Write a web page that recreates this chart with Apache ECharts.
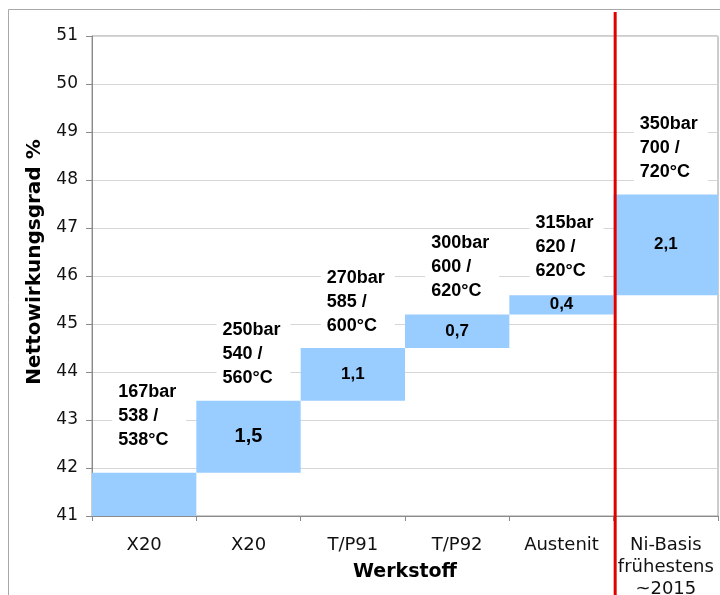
<!DOCTYPE html>
<html>
<head>
<meta charset="utf-8">
<script src="https://cdn.jsdelivr.net/npm/echarts@6/dist/echarts.min.js"></script>
<style>
html,body{margin:0;padding:0;background:#fff;}
#chart{width:720px;height:595px;}
</style>
</head>
<body>
<div id="chart"></div>
<script>
// ---- data ----
const categories = ['X20', 'X20', 'T/P91', 'T/P92', 'Austenit', 'Ni-Basis\nfrühestens\n~2015'];
const baseValues = [41, 41.9, 43.4, 44.5, 45.2, 45.6];
const stepValues = [0.9, 1.5, 1.1, 0.7, 0.4, 2.1];
const stepLabels = ['', '1,5', '1,1', '0,7', '0,4', '2,1'];
const noteTexts = [
  '167bar\n538 /\n538°C',
  '250bar\n540 /\n560°C',
  '270bar\n585 /\n600°C',
  '300bar\n600 /\n620°C',
  '315bar\n620 /\n620°C',
  '350bar\n700 /\n720°C'
];
const noteLevels = [43.08, 44.37, 45.46, 46.19, 46.6, 48.67];
const yMin = 41, yMax = 51, yStep = 1;
const yTitle = 'Nettowirkungsgrad %';
const xTitle = 'Werkstoff';
const dividerAfter = 4; // red line between category 4 and 5

// ---- chart ----
const chart = echarts.init(document.getElementById('chart'), null, {renderer: 'canvas'});
const FONT = 'DejaVu Sans';
const BOLD_ARIAL = 'Liberation Sans';

const option = {
  animation: false,
  backgroundColor: '#fff',
  grid: {left: 92, right: 2, top: 36, bottom: 79, show: true, borderColor: '#9a9a9a', borderWidth: 1,
         backgroundColor: 'transparent', containLabel: false, outerBoundsMode: 'none'},
  xAxis: {
    type: 'category',
    data: categories,
    boundaryGap: true,
    axisLine: {lineStyle: {color: '#8a8a8a', width: 1}},
    axisTick: {show: true, length: 5, lineStyle: {color: '#8a8a8a'}},
    axisLabel: {color: '#111', fontFamily: FONT, fontSize: 18, margin: 18, lineHeight: 22, interval: 0},
    splitLine: {show: false}
  },
  yAxis: {
    type: 'value',
    min: yMin, max: yMax, interval: yStep,
    axisLine: {show: true, lineStyle: {color: '#8a8a8a', width: 1}},
    axisTick: {show: true, length: 6, lineStyle: {color: '#8a8a8a'}},
    axisLabel: {color: '#111', fontFamily: FONT, fontSize: 17, margin: 14},
    splitLine: {lineStyle: {color: '#d6d6d6', width: 1}}
  },
  series: [
    {
      type: 'bar', stack: 'w', barWidth: '100%', silent: true,
      itemStyle: {color: 'rgba(0,0,0,0)'},
      data: baseValues
    },
    {
      type: 'bar', stack: 'w', barWidth: '100%',
      itemStyle: {color: '#99CCFF'},
      data: stepValues.map((v, i) => ({
        value: v,
        label: {
          show: stepLabels[i] !== '',
          position: 'inside',
          formatter: stepLabels[i],
          fontFamily: BOLD_ARIAL, fontWeight: 'bold',
          fontSize: i === 1 ? 20 : 17,
          color: '#000'
        }
      }))
    },
    {
      type: 'scatter', symbolSize: 0, z: 5,
      itemStyle: {opacity: 1},
      data: noteLevels.map((y, i) => ({value: [i, y]})),
      label: {
        show: true,
        position: 'inside',
        align: 'left',
        verticalAlign: 'middle',
        offset: [-32, 0],
        formatter: p => noteTexts[p.dataIndex],
        fontFamily: BOLD_ARIAL, fontWeight: 'bold', fontSize: 18,
        lineHeight: 24, color: '#000', opacity: 1,
        backgroundColor: '#fff',
        padding: [2, 10, 2, 6]
      }
    }
  ]
};
chart.setOption(option);

const x4 = chart.convertToPixel({xAxisIndex: 0}, dividerAfter);
const x5 = chart.convertToPixel({xAxisIndex: 0}, dividerAfter + 1);
const divX = (x4 + x5) / 2 + 1.5;

chart.setOption({
  graphic: [
    {type: 'rect', silent: true, shape: {x: 8.5, y: 9.5, width: 1000, height: 1000},
     style: {fill: 'none', stroke: '#a8a8a8', lineWidth: 1}, z: 0},
    {type: 'line', silent: true, shape: {x1: divX, y1: 12, x2: divX, y2: 600},
     style: {stroke: '#e00000', lineWidth: 3}, z: 100},
    {type: 'text', silent: true, x: 35, y: 262, rotation: Math.PI / 2,
     style: {text: yTitle, fontFamily: FONT, fontWeight: 'bold', fontSize: 20, fill: '#000',
             textAlign: 'center', textVerticalAlign: 'middle'}},
    {type: 'text', silent: true, x: 405, y: 572,
     style: {text: xTitle, fontFamily: FONT, fontWeight: 'bold', fontSize: 19, fill: '#000',
             textAlign: 'center', textVerticalAlign: 'middle'}}
  ]
});
</script>
</body>
</html>
